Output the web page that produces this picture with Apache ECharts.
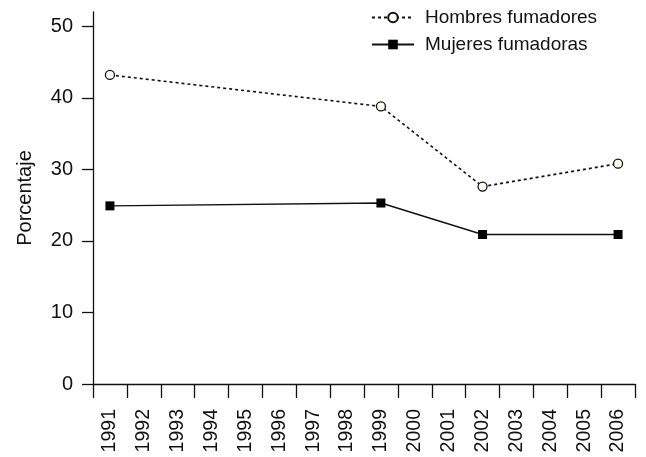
<!DOCTYPE html>
<html>
<head>
<meta charset="utf-8">
<script src="https://cdn.jsdelivr.net/npm/echarts@6/dist/echarts.min.js"></script>
<style>
html,body{margin:0;padding:0;background:#fff;}
#chart{width:646px;height:457px;}
</style>
</head>
<body>
<div id="chart"></div>
<script>
var years = ['1991','1992','1993','1994','1995','1996','1997','1998','1999','2000','2001','2002','2003','2004','2005','2006'];
var hombres = [43.2, null, null, null, null, null, null, null, 38.8, null, null, 27.6, null, null, null, 30.8];
var mujeres = [24.9, null, null, null, null, null, null, null, 25.3, null, null, 20.9, null, null, null, 20.9];
var yTicks = [0, 10, 20, 30, 40, 50];

var FONT = 'Liberation Sans, Arial, sans-serif';
var TXT = '#111';
var chart = echarts.init(document.getElementById('chart'), null, {renderer: 'canvas'});
chart.setOption({
  animation: false,
  backgroundColor: '#ffffff',
  textStyle: {fontFamily: FONT, color: TXT},
  grid: {left: 93, right: 11, top: 12, bottom: 73, containLabel: false},
  legend: {
    orient: 'vertical',
    left: 366,
    top: 3,
    itemWidth: 42,
    itemHeight: 12,
    itemGap: 8,
    textStyle: {fontFamily: FONT, fontSize: 19, color: TXT, padding: [0, 0, 0, 6]},
    data: ['Hombres fumadores', 'Mujeres fumadoras']
  },
  xAxis: {
    type: 'category',
    data: years,
    boundaryGap: true,
    axisLine: {lineStyle: {color: '#111', width: 1.3}},
    axisTick: {show: true, length: 14, lineStyle: {color: '#111', width: 1.3}, alignWithLabel: false},
    axisLabel: {rotate: 90, margin: 25, interval: 0, fontSize: 19.5, color: TXT, fontFamily: FONT},
    splitLine: {show: false}
  },
  yAxis: {
    type: 'value',
    min: 0,
    max: 52,
    name: 'Porcentaje',
    nameLocation: 'middle',
    nameGap: 58,
    nameRotate: 90,
    nameTextStyle: {fontSize: 20, color: TXT, fontFamily: FONT},
    axisLine: {show: true, lineStyle: {color: '#111', width: 1.3}},
    axisTick: {show: true, length: 11, customValues: yTicks, lineStyle: {color: '#111', width: 1.3}},
    axisLabel: {customValues: yTicks, margin: 20, fontSize: 20, color: TXT, fontFamily: FONT},
    splitLine: {show: false}
  },
  series: [
    {
      name: 'Hombres fumadores',
      type: 'line',
      data: hombres,
      connectNulls: true,
      symbol: 'circle',
      symbolSize: 9,
      itemStyle: {color: '#fffff2', borderColor: '#111', borderWidth: 1.3},
      lineStyle: {color: '#111', width: 1.6, type: [3, 3]}
    },
    {
      name: 'Mujeres fumadoras',
      type: 'line',
      data: mujeres,
      connectNulls: true,
      symbol: 'rect',
      symbolSize: 9,
      itemStyle: {color: '#000', borderColor: '#000', borderWidth: 0},
      lineStyle: {color: '#111', width: 1.4, type: 'solid'}
    }
  ]
});
</script>
</body>
</html>
